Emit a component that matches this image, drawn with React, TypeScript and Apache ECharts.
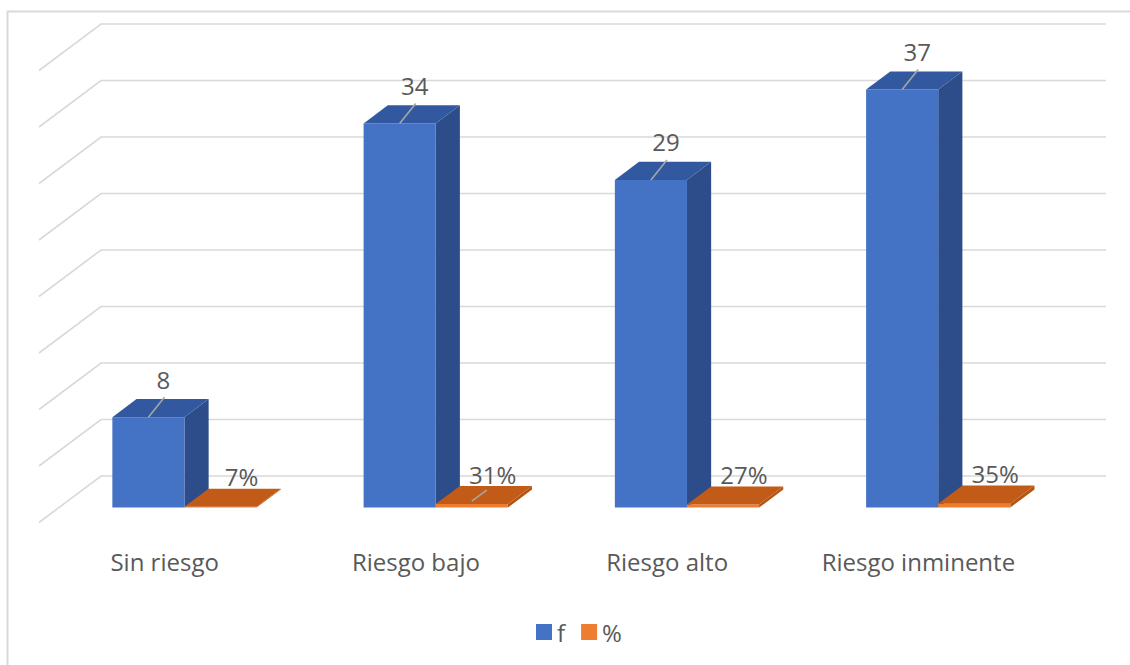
import { useEffect, useRef } from "react";
import * as echarts from "echarts";

// Risk levels and their counts (f) and shares (%)
const categories = ["Sin riesgo", "Riesgo bajo", "Riesgo alto", "Riesgo inminente"];
const frequency = [8, 34, 29, 37];
const share = [0.07, 0.31, 0.27, 0.35];

// Value axis
const axisMin = 0;
const axisMax = 40;
const axisStep = 5;
const valueTicks: number[] = [];
for (let v = axisMin; v <= axisMax; v += axisStep) valueTicks.push(v);

// Oblique projection: offset of the floor's front edge from the back wall
const FLOOR = { dx: -62, dy: 46.5 };
const BAR_FRONT = 0.68; // depth of the bars' front faces (0 = back wall, 1 = front edge)
const BAR_BACK = 0.29; // depth of the bars' back faces
const BAR_SHARE = 0.287; // bar width as a share of the category band

const TEXT = "#595959";
const GRID = "#D9D9D9";
const FONT = "Open Sans";

type Palette = { front: string; side: string; top: string };
const BLUE: Palette = { front: "#4472C4", side: "#2C4D89", top: "#3259A0" };
const ORANGE: Palette = { front: "#ED7D31", side: "#B4540F", top: "#C25B17" };

// label placement relative to the front top edge of a bar
const F_LABEL = { dx: 15, dy: -38, leader: { dx: 16, dy: -20 } };
const PCT_LABEL = { dx: 21, dy: -30, leader: { dx: 15, dy: -11 } };
const pctLeaderShown = new Set(["Riesgo bajo"]);

function barRenderer(slot: 0 | 1, pal: Palette, fmt: (v: number) => string) {
  return (params: any, api: any) => {
    const cat = api.value(0) as number;
    const val = api.value(1) as number;
    const base = api.coord([cat, 0]);
    const top = api.coord([cat, val]);
    const band = api.size([1, 0])[0];
    const w = band * BAR_SHARE;
    const fx = FLOOR.dx * BAR_FRONT;
    const fy = FLOOR.dy * BAR_FRONT;
    const ddx = FLOOR.dx * (BAR_BACK - BAR_FRONT);
    const ddy = FLOOR.dy * (BAR_BACK - BAR_FRONT);
    const x0 = base[0] + fx + (slot === 0 ? -w : 0);
    const x1 = x0 + w;
    const yB = base[1] + fy;
    const yT = top[1] + fy;
    const cx = (x0 + x1) / 2;
    const lab = slot === 0 ? F_LABEL : PCT_LABEL;
    const children: any[] = [
      {
        type: "polygon",
        shape: { points: [[x1, yT], [x1 + ddx, yT + ddy], [x1 + ddx, yB + ddy], [x1, yB]] },
        style: { fill: pal.side },
      },
      {
        type: "rect",
        shape: { x: x0, y: yT, width: w, height: Math.max(yB - yT, 0.5) },
        style: { fill: pal.front },
      },
      {
        type: "polygon",
        shape: { points: [[x0, yT], [x1, yT], [x1 + ddx, yT + ddy], [x0 + ddx, yT + ddy]] },
        style: { fill: pal.top },
      },
    ];
    const showLeader = slot === 0 || pctLeaderShown.has(categories[cat]);
    if (showLeader) {
      const ly = slot === 0 ? yT : yT - 3;
      children.push({
        type: "line",
        shape: { x1: cx, y1: ly, x2: cx + lab.leader.dx, y2: ly + lab.leader.dy },
        style: { stroke: "#A6A6A6", lineWidth: 1.6 },
      });
    }
    children.push({
      type: "text",
      style: {
        text: fmt(val),
        x: cx + lab.dx,
        y: yT + lab.dy,
        align: "center",
        verticalAlign: "middle",
        fill: TEXT,
        fontSize: 24,
        fontFamily: FONT,
      },
    });
    return { type: "group", children };
  };
}

export default function App() {
  const ref = useRef<HTMLDivElement>(null);

  useEffect(() => {
    if (!ref.current) return;
    const chart = echarts.init(ref.current, null, { renderer: "svg" });

    const backLeft = 101;
    const backRight = 24;
    const backTop = 24;
    const backHeight = 452;

    chart.setOption({
      animation: false,
      backgroundColor: "#ffffff",
      textStyle: { fontFamily: FONT },
      graphic: [
        {
          type: "rect",
          shape: { x: 7.5, y: 11.5, width: 1200, height: 700 },
          style: { fill: "none", stroke: GRID, lineWidth: 2 },
          silent: true,
        },
      ],
      legend: {
        data: ["f", "%"],
        left: 531,
        top: 615,
        icon: "rect",
        itemWidth: 16,
        itemHeight: 16,
        itemGap: 16,
        textStyle: { color: TEXT, fontSize: 24, fontFamily: FONT },
      },
      grid: [
        { left: backLeft, right: backRight, top: backTop, height: backHeight },
        {
          left: backLeft + FLOOR.dx,
          right: backRight - FLOOR.dx,
          top: backTop + FLOOR.dy,
          height: backHeight,
        },
      ],
      xAxis: [
        { type: "category", gridIndex: 0, data: categories, show: false },
        {
          type: "category",
          gridIndex: 1,
          data: categories,
          axisLine: { show: false },
          axisTick: { show: false },
          splitLine: { show: false },
          axisLabel: {
            interval: 0,
            hideOverlap: false,
            color: TEXT,
            fontSize: 24,
            fontFamily: FONT,
            margin: 27,
          },
        },
      ],
      yAxis: [
        {
          type: "value",
          gridIndex: 0,
          min: axisMin,
          max: axisMax,
          interval: axisStep,
          axisLabel: { show: false },
          axisLine: { show: false },
          axisTick: { show: false },
          splitLine: { show: false },
        },
        {
          type: "value",
          gridIndex: 1,
          min: axisMin,
          max: axisMax,
          interval: axisStep,
          show: false,
          splitLine: { show: false },
        },
      ],
      series: [
        {
          name: "walls",
          type: "custom",
          xAxisIndex: 0,
          yAxisIndex: 0,
          z: 1,
          silent: true,
          data: valueTicks.map((v) => [0, v]),
          renderItem: (params: any, api: any) => {
            const y = api.coord([0, api.value(1)])[1];
            const cs = params.coordSys;
            return {
              type: "polyline",
              shape: {
                points: [
                  [cs.x + FLOOR.dx, y + FLOOR.dy],
                  [cs.x, y],
                  [cs.x + cs.width, y],
                ],
              },
              style: { stroke: GRID, lineWidth: 1.6, fill: "none" },
            };
          },
        },
        {
          name: "f",
          type: "custom",
          xAxisIndex: 0,
          yAxisIndex: 0,
          z: 3,
          itemStyle: { color: BLUE.front },
          data: frequency.map((v, i) => [i, v]),
          renderItem: barRenderer(0, BLUE, (v) => String(v)),
        },
        {
          name: "%",
          type: "custom",
          xAxisIndex: 0,
          yAxisIndex: 0,
          z: 4,
          itemStyle: { color: ORANGE.front },
          data: share.map((v, i) => [i, v]),
          renderItem: barRenderer(1, ORANGE, (v) => `${Math.round(v * 100)}%`),
        },
      ],
    });

    return () => chart.dispose();
  }, []);

  return (
    <div
      ref={ref}
      style={{ position: "fixed", left: 0, top: 0, width: 1130, height: 665 }}
    />
  );
}
